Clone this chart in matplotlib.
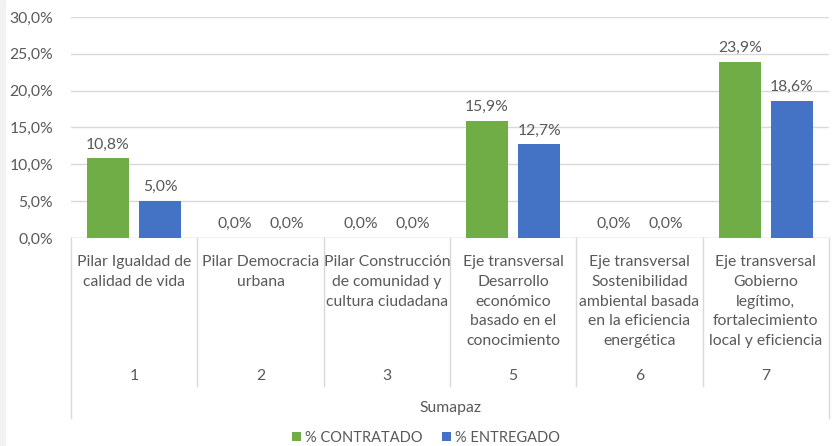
import matplotlib.pyplot as plt
from matplotlib.patches import Rectangle
from matplotlib.ticker import FuncFormatter

plt.rcParams['font.family'] = ['Lato', 'DejaVu Sans']

categorias = ['Pilar Igualdad de\ncalidad de vida',
              'Pilar Democracia\nurbana',
              'Pilar Construcción\nde comunidad y\ncultura ciudadana',
              'Eje transversal\nDesarrollo\neconómico\nbasado en el\nconocimiento',
              'Eje transversal\nSostenibilidad\nambiental basada\nen la eficiencia\nenergética',
              'Eje transversal\nGobierno\nlegítimo,\nfortalecimiento\nlocal y eficiencia']
codigos = ['1', '2', '3', '5', '6', '7']
grupo = 'Sumapaz'
contratado = [0.108, 0.0, 0.0, 0.159, 0.0, 0.239]
entregado = [0.050, 0.0, 0.0, 0.127, 0.0, 0.186]

verde = '#70ad47'
azul = '#4472c4'
gris_txt = '#595959'
gris_lin = '#d9d9d9'
fs = 11.3

fig = plt.figure(figsize=(8.36, 4.46), dpi=100)
fig.patches.append(Rectangle((0, 0), 5 / 836, 1, transform=fig.transFigure,
                             color='#f2f2f2', zorder=0))
ax = fig.add_axes([71 / 836, (446 - 238) / 446, 758 / 836, 221 / 446])

x = list(range(len(categorias)))
w = 0.333
off = 0.207
b1 = ax.bar([i - off for i in x], contratado, w, color=verde, label='% CONTRATADO', zorder=3)
b2 = ax.bar([i + off for i in x], entregado, w, color=azul, label='% ENTREGADO', zorder=3)

fmt = lambda v: f'{v * 100:.1f}%'.replace('.', ',')
for bars, vals in [(b1, contratado), (b2, entregado)]:
    for r, v in zip(bars, vals):
        ax.annotate(fmt(v), (r.get_x() + r.get_width() / 2, v), xytext=(0, 5),
                    textcoords='offset points', ha='center', va='bottom',
                    fontsize=fs, color=gris_txt)

ax.set_xlim(-0.5, len(categorias) - 0.5)
ax.set_ylim(0, 0.30)
ax.set_yticks([i * 0.05 for i in range(7)])
ax.yaxis.set_major_formatter(FuncFormatter(lambda v, p: fmt(v)))
ax.tick_params(axis='y', length=0, labelsize=fs, labelcolor=gris_txt, pad=13)
ax.set_xticks([])
ax.grid(axis='y', color=gris_lin, linewidth=1, zorder=0)
for s in ax.spines.values():
    s.set_visible(False)
ax.axhline(0, color=gris_lin, linewidth=1, zorder=2)

tr = ax.get_xaxis_transform()
for i, (c, n) in enumerate(zip(categorias, codigos)):
    ax.text(i, -0.078, c, transform=tr, ha='center', va='top', fontsize=fs,
            color=gris_txt, linespacing=1.52)
    ax.text(i, -0.624, n, transform=tr, ha='center', va='center', fontsize=fs,
            color=gris_txt)
for i in range(len(categorias) + 1):
    bottom = -0.814 if i in (0, len(categorias)) else -0.67
    ax.plot([i - 0.5, i - 0.5], [0, bottom], transform=tr, color=gris_lin,
            linewidth=1, clip_on=False)
ax.text((len(categorias) - 1) / 2, -0.769, grupo, transform=tr, ha='center',
        va='center', fontsize=fs, color=gris_txt)

fig.legend(loc='center', bbox_to_anchor=(426 / 836, 8 / 446), ncol=2, frameon=False,
           handlelength=0.6, handleheight=0.6, handletextpad=0.3,
           columnspacing=1.3, fontsize=10.5, labelcolor=gris_txt)

fig.savefig('out.png', dpi=100)
